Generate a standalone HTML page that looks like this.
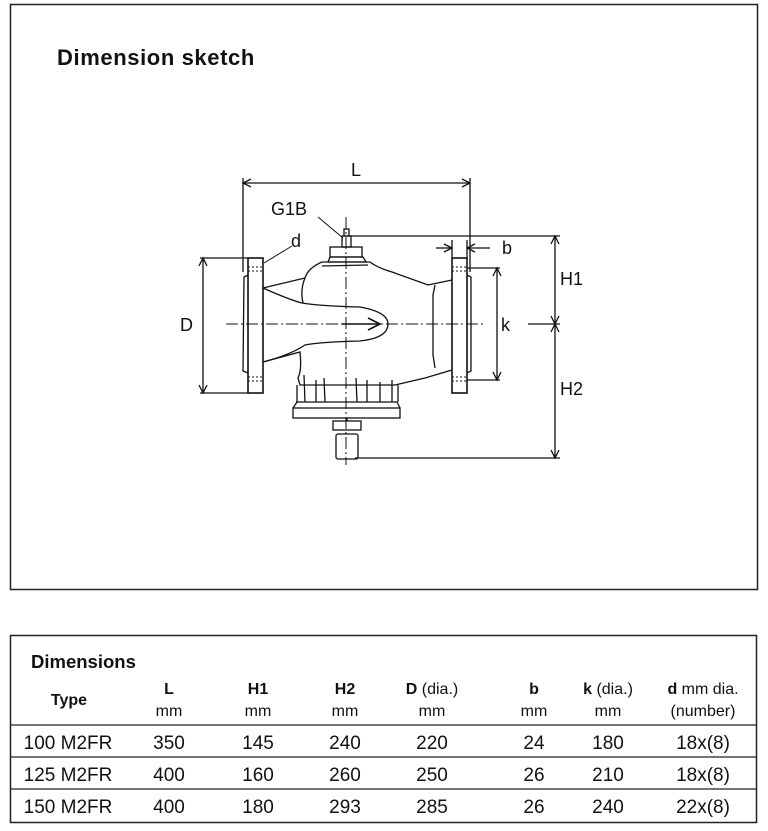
<!DOCTYPE html>
<html><head><meta charset="utf-8"><style>
body{margin:0;background:#fff;width:768px;height:831px;overflow:hidden;font-family:"Liberation Sans",Arial,sans-serif}
svg{position:absolute;left:0;top:0}
</style></head><body>
<svg width="768" height="831" viewBox="0 0 768 831" font-family="Liberation Sans, Arial, sans-serif">
<rect x="10.5" y="4.5" width="747" height="585" fill="none" stroke="#222" stroke-width="1.5"/>
<text x="57" y="65" font-size="22" font-weight="bold" fill="#111" letter-spacing="0.6">Dimension sketch</text>
<g stroke="#111" fill="none" stroke-width="1.3">
<line x1="243" y1="183" x2="470" y2="183"/>
<path d="M251 179 L243 183 L251 187 M462 179 L470 183 L462 187"/>
<line x1="243" y1="178" x2="243" y2="272"/>
<line x1="470" y1="178" x2="470" y2="272"/>
<line x1="203" y1="258" x2="203" y2="393"/>
<line x1="200" y1="258" x2="248" y2="258"/><line x1="200" y1="393" x2="248" y2="393"/>
<path d="M199 266 L203 258 L207 266 M199 385 L203 393 L207 385"/>
<line x1="497" y1="268" x2="497" y2="380"/>
<line x1="467" y1="268" x2="500" y2="268"/><line x1="467" y1="380" x2="500" y2="380"/>
<path d="M493 276 L497 268 L501 276 M493 372 L497 380 L501 372"/>
<line x1="555" y1="236" x2="555" y2="458"/>
<line x1="350" y1="236" x2="560" y2="236"/>
<line x1="355" y1="458" x2="560" y2="458"/>
<line x1="528" y1="324" x2="560" y2="324"/>
<path d="M551 244 L555 236 L559 244 M551 316 L555 324 L559 316 M551 332 L555 324 L559 332 M551 450 L555 458 L559 450"/>
<line x1="436" y1="248" x2="452" y2="248"/><line x1="467" y1="248" x2="490" y2="248"/>
<path d="M444 244 L452 248 L444 252 M475 244 L467 248 L475 252"/>
<line x1="452" y1="240" x2="452" y2="258"/><line x1="467" y1="240" x2="467" y2="258"/>
<line x1="318" y1="217" x2="343" y2="238" stroke-width="1"/>
<line x1="292" y1="246" x2="264" y2="263" stroke-width="1"/>
<line x1="226" y1="324" x2="485" y2="324" stroke-dasharray="12,3,2,3" stroke-width="1"/>
<line x1="346" y1="217" x2="346" y2="465" stroke-dasharray="12,3,2,3" stroke-width="1"/>
<rect x="248" y="258" width="15" height="135" stroke-width="1.6"/>
<path d="M248 275 L244 277 L243 371 L248 373" />
<rect x="452" y="258" width="15" height="135" stroke-width="1.6"/>
<path d="M467 275 L471 277 L471 371 L467 373" />
<g stroke-dasharray="2,2" stroke-width="1"><line x1="248" y1="267" x2="263" y2="267"/><line x1="248" y1="271" x2="263" y2="271"/><line x1="248" y1="377" x2="263" y2="377"/><line x1="248" y1="381" x2="263" y2="381"/>
<line x1="452" y1="267" x2="467" y2="267"/><line x1="452" y1="271" x2="467" y2="271"/><line x1="452" y1="377" x2="467" y2="377"/><line x1="452" y1="381" x2="467" y2="381"/></g>
<path d="M263 288 L305 278 Q308 268 322 262 L370 262 Q378 268 392 272 L428 285 L452 280"/>
<path d="M263 362 L300 352 Q302 370 298 378 L300 385 Q318 385 395 385 L425 378 L452 370"/>
<path d="M263 288 Q290 300 302 303 Q320 306 360 307 Q388 312 388 324 Q388 338 360 341 Q320 342 305 345 Q290 355 263 362"/>
<path d="M305 278 Q300 290 303 303"/>
<path d="M435 285 L433 295 L433 355 L435 368"/>
<path d="M322 266 L368 265"/>
<path d="M330 257 L328 262 L366 262 L363 257 Z"/>
<rect x="330" y="247" width="32" height="10"/>
<rect x="342" y="236" width="9" height="11"/>
<rect x="344" y="229" width="5" height="7"/>
<path d="M297 385 L297 402 M304 375 L305 402 M316 380 L316 402 M324 378 L325 402 M356 378 L357 402 M367 380 L367 402 M380 382 L380 402 M392 380 L392 402 M398 385 L398 402"/>
<path d="M296 402 L397 402"/>
<rect x="293" y="408" width="107" height="10"/>
<path d="M297 402 L293 408 M397 402 L400 408"/>
<rect x="333" y="421" width="28" height="9"/>
<rect x="336" y="434" width="22" height="25" rx="2"/>
<line x1="347" y1="418" x2="347" y2="421"/>
<line x1="342" y1="324" x2="380" y2="324" stroke-width="1.6"/>
<path d="M368 318 L380 324 L368 330" stroke-width="1.6"/>
</g>
<g font-size="18" fill="#111">
<text x="351" y="176">L</text>
<text x="271" y="215">G1B</text>
<text x="291" y="247">d</text>
<text x="502" y="254">b</text>
<text x="560" y="285">H1</text>
<text x="560" y="395">H2</text>
<text x="180" y="331">D</text>
<text x="501" y="331">k</text>
</g>
<rect x="10.5" y="635.5" width="746" height="187" fill="none" stroke="#222" stroke-width="1.5"/>
<g stroke="#222" stroke-width="1.2"><line x1="10" y1="725" x2="757" y2="725"/><line x1="10" y1="757" x2="757" y2="757"/><line x1="10" y1="789" x2="757" y2="789"/></g>
<text x="31" y="668" font-size="18.5" font-weight="bold" fill="#111">Dimensions</text>
<g font-size="16" fill="#111" text-anchor="middle">
<text x="69" y="705" font-weight="bold">Type</text>
<text x="169" y="694" font-weight="bold">L</text><text x="169" y="716">mm</text>
<text x="258" y="694" font-weight="bold">H1</text><text x="258" y="716">mm</text>
<text x="345" y="694" font-weight="bold">H2</text><text x="345" y="716">mm</text>
<text x="432" y="694"><tspan font-weight="bold">D</tspan> (dia.)</text><text x="432" y="716">mm</text>
<text x="534" y="694" font-weight="bold">b</text><text x="534" y="716">mm</text>
<text x="608" y="694"><tspan font-weight="bold">k</tspan> (dia.)</text><text x="608" y="716">mm</text>
<text x="703" y="694"><tspan font-weight="bold">d</tspan> mm dia.</text><text x="703" y="716">(number)</text>
</g>
<g font-size="19" fill="#111" text-anchor="middle">
<text x="68" y="749">100 M2FR</text><text x="169" y="749">350</text><text x="258" y="749">145</text><text x="345" y="749">240</text><text x="432" y="749">220</text><text x="534" y="749">24</text><text x="608" y="749">180</text><text x="703" y="749">18x(8)</text>
<text x="68" y="781">125 M2FR</text><text x="169" y="781">400</text><text x="258" y="781">160</text><text x="345" y="781">260</text><text x="432" y="781">250</text><text x="534" y="781">26</text><text x="608" y="781">210</text><text x="703" y="781">18x(8)</text>
<text x="68" y="813">150 M2FR</text><text x="169" y="813">400</text><text x="258" y="813">180</text><text x="345" y="813">293</text><text x="432" y="813">285</text><text x="534" y="813">26</text><text x="608" y="813">240</text><text x="703" y="813">22x(8)</text>
</g>
</svg>
</body></html>
